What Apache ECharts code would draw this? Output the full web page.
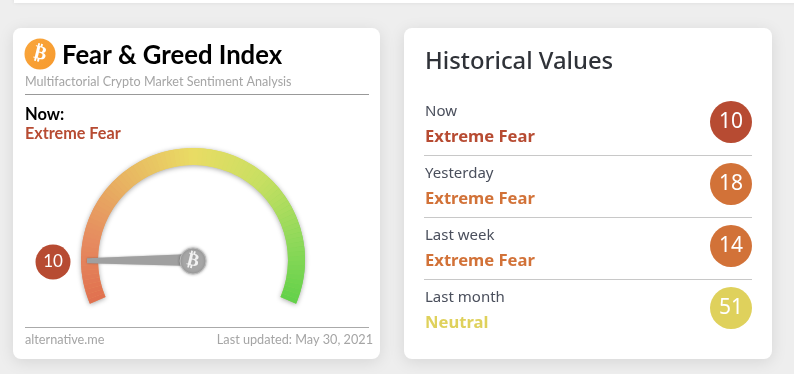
<!DOCTYPE html>
<html><head><meta charset="utf-8">
<style>html,body{margin:0;padding:0;background:#eeeeee}#c{width:794px;height:374px}</style>
<script src="https://cdn.jsdelivr.net/npm/echarts@6/dist/echarts.min.js"></script>
</head><body><div id="c"></div>
<script>
const gaugeValue = 10;
const gaugeLabel = 'Extreme Fear';
const rowNames = ['Now', 'Yesterday', 'Last week', 'Last month'];
const rowStates = ['Extreme Fear', 'Extreme Fear', 'Extreme Fear', 'Neutral'];
const rowValues = [10, 18, 14, 51];
const rowColors = ['#b74b32', '#d27238', '#d27238', '#dfd15c'];
const arcStops = [[0,'#e0704f'],[0.15,'#e68b60'],[0.33,'#e8b762'],[0.5,'#e9dc64'],[0.68,'#c8df62'],[0.85,'#90d95a'],[1,'#62d14a']];

function hex(c){return [1,3,5].map(i=>parseInt(c.substr(i,2),16));}
function arcColors(n){
  const out=[];
  for(let i=1;i<=n;i++){
    const p=(i-0.5)/n;
    let k=0; while(k<arcStops.length-2&&p>arcStops[k+1][0])k++;
    const a=arcStops[k],b=arcStops[k+1],t=(p-a[0])/(b[0]-a[0]);
    const A=hex(a[1]),B=hex(b[1]);
    out.push([i/n,'rgb('+A.map((v,j)=>Math.round(v+(B[j]-v)*t)).join(',')+')']);
  }
  return out;
}
const chart = echarts.init(document.getElementById('c'), null, {renderer:'canvas'});
const LATO='Lato, sans-serif', NUN='"Noto Sans", sans-serif';
const card=(x,w)=>({type:'rect',shape:{x:x,y:28,width:w,height:331,r:8},style:{fill:'#fff',shadowBlur:16,shadowColor:'rgba(0,0,0,0.10)',shadowOffsetY:3},z:-5});
const txt=(x,y,t,font,size,weight,fill,align)=>({type:'text',x:x,y:y,style:{text:t,fontFamily:font,fontSize:size,fontWeight:weight,fill:fill,align:align||'left',verticalAlign:'middle'},z:1});
const line=(x1,x2,y,c)=>({type:'rect',shape:{x:x1,y:y,width:x2-x1,height:1},style:{fill:c},z:1});
const rowEls=[];
rowNames.forEach((n,i)=>{
  rowEls.push(txt(425,112+i*62,n,NUN,15,400,'#4a4f5c'));
  rowEls.push(txt(425,137+i*62,rowStates[i],NUN,16.6,700,rowColors[i]));
  if(i<3) rowEls.push(line(424,752,155+i*62,'#c8c8c8'));
});
chart.setOption({
  animation:false,
  backgroundColor:'#eeeeee',
  title:[
    {text:'Fear & Greed Index',left:62,top:43,padding:0,textStyle:{fontFamily:LATO,fontSize:25.7,fontWeight:700,color:'#000'}},
    {text:'Historical Values',left:425,top:50,padding:0,textStyle:{fontFamily:NUN,fontSize:23.8,fontWeight:500,color:'#2f3238'}}
  ],
  graphic:{elements:[
    {type:'rect',shape:{x:14,y:-10,width:790,height:13},style:{fill:'#fff',shadowBlur:4,shadowColor:'rgba(0,0,0,0.08)'},z:-5},
    card(13,367),card(404,368),
    {type:'circle',shape:{cx:40,cy:54,r:15.5},style:{fill:new echarts.graphic.LinearGradient(0,0,1,1,[{offset:0,color:'#f9a63c'},{offset:1,color:'#f79a2e'}])},z:1},
    {type:'text',x:40,y:54,rotation:-0.24,originX:0,originY:0,style:{text:'\u20BF',fontFamily:'DejaVu Sans',fontSize:19,fontWeight:700,fill:'#fff',align:'center',verticalAlign:'middle'},z:2},
    txt(25,81.5,'Multifactorial Crypto Market Sentiment Analysis',LATO,12.6,400,'#a5a5a5'),
    line(25,369,94,'#999999'),
    txt(25,115,'Now:',LATO,16.5,700,'#000'),
    txt(25,134,gaugeLabel,LATO,16.2,700,'#b74b32'),
    line(25,369,327,'#aaaaaa'),
    txt(25,340,'alternative.me',LATO,12.7,400,'#a5a5a5'),
    txt(373,340,'Last updated: May 30, 2021',LATO,12.7,400,'#a5a5a5','right'),
    {type:'text',x:193,y:261,z:100,zlevel:1,rotation:-0.24,originX:0,originY:0,style:{text:'\u20BF',fontFamily:'DejaVu Sans',fontSize:18,fontWeight:700,fill:'#f2f2f2',align:'center',verticalAlign:'middle'}}
  ].concat(rowEls)},
  grid:{left:710,width:42,top:91,height:248,containLabel:false},
  xAxis:{type:'category',data:['value'],show:false},
  yAxis:{type:'category',data:rowNames,inverse:true,show:false},
  series:[
    {type:'gauge',center:[193,260],radius:112,startAngle:203,endAngle:-23,min:0,max:100,
     axisLine:{lineStyle:{width:17,color:[[1,new echarts.graphic.LinearGradient(0,0,1,0,[{offset:0,color:'#e68b60'},{offset:0.25,color:'#e8b762'},{offset:0.5,color:'#e9dc64'},{offset:0.8,color:'#c0de60'},{offset:1,color:'#70d34e'}])]],shadowBlur:5,shadowColor:'rgba(0,0,0,0.35)',shadowOffsetY:1}},
     axisTick:{show:false},splitLine:{show:false},axisLabel:{show:false},pointer:{show:false},anchor:{show:false},title:{show:false},detail:{show:false},data:[{value:gaugeValue}],silent:true},
    {type:'gauge',center:[193,260],radius:112,startAngle:203,endAngle:-23,min:0,max:100,z:3,
     axisLine:{lineStyle:{width:17,color:arcColors(90)}},
     axisTick:{show:false},splitLine:{show:false},axisLabel:{show:false},
     pointer:{show:true,icon:'path://M3 0 L7 0 L10 100 L0 100 Z',length:106,width:12,offsetCenter:[0,0],
       itemStyle:{color:'#a0a0a0',shadowBlur:2,shadowColor:'rgba(0,0,0,0.3)'}},
     anchor:{show:true,showAbove:true,size:26,offsetCenter:[0,1],itemStyle:{color:'#a6a6a6',borderWidth:1,borderColor:'#bdbdbd',shadowBlur:3,shadowColor:'rgba(0,0,0,0.3)'}},
     title:{show:false},
     detail:{show:true,valueAnimation:false,offsetCenter:[-140,2],width:35,height:35,lineHeight:37,padding:0,borderRadius:18,backgroundColor:'#b74b32',color:'#fff',fontFamily:LATO,fontSize:17,fontWeight:400,align:'center',formatter:'{value}'},
     data:[{value:gaugeValue}]},
    {type:'scatter',name:'Historical',symbolSize:42,z:4,
     data:rowValues.map((v,i)=>({value:['value',rowNames[i],v],itemStyle:{color:rowColors[i],opacity:1}})),
     label:{show:true,position:'inside',formatter:p=>p.value[2],color:'#fff',fontFamily:NUN,fontSize:21,fontWeight:400}}
  ]
});
</script></body></html>
